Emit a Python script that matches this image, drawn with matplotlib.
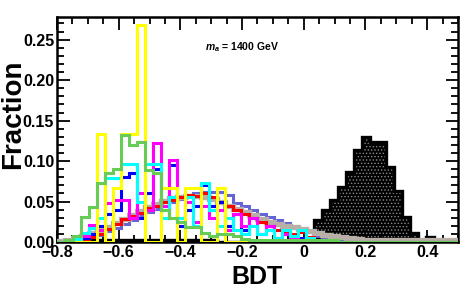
import numpy as np
import matplotlib
matplotlib.use("Agg")
import matplotlib.pyplot as plt
from matplotlib.ticker import MultipleLocator

plt.rcParams['font.family'] = ['Liberation Sans', 'DejaVu Sans']
plt.rcParams['font.weight'] = 'bold'
plt.rcParams['mathtext.fontset'] = 'custom'
plt.rcParams['mathtext.it'] = 'Liberation Sans:italic'
plt.rcParams['mathtext.rm'] = 'Liberation Sans:bold'
plt.rcParams['hatch.linewidth'] = 0.6

# 50 bins from -0.8 to 0.5
edges = np.linspace(-0.8, 0.5, 51)

yellow = [0, 0, 0, 0, 0, 0.134, 0, 0.067, 0.134, 0.134,
          0.268, 0, 0, 0.067, 0.067, 0, 0.067, 0.067, 0, 0,
          0.067, 0, 0, 0, 0] + [0]*25
green = [0, 0.002, 0.007, 0.031, 0.043, 0.073, 0.085, 0.090, 0.132, 0.120,
         0.123, 0.089, 0.085, 0.040, 0.030, 0.025, 0.019, 0.019, 0.011, 0.007,
         0.010, 0.010, 0.008, 0.004, 0.002] + [0.002]*10 + [0]*15
cyan = [0, 0, 0.004, 0.011, 0.017, 0.030, 0.079, 0.079, 0.097, 0.097,
        0.050, 0.097, 0.097, 0.030, 0.055, 0.030, 0.055, 0.020, 0.073, 0.040,
        0.020, 0.030, 0.015, 0.010, 0.020, 0.010, 0.015, 0.005, 0.015, 0.008,
        0.015, 0.005] + [0]*18
magenta = [0, 0, 0, 0.008, 0.021, 0.015, 0.048, 0.052, 0.052, 0.030,
           0.060, 0.040, 0.122, 0.045, 0.101, 0.030, 0.050, 0.025, 0.045, 0.030,
           0.040, 0.015, 0.035, 0.020, 0.030, 0.010, 0.020, 0.005, 0.010, 0.005] + [0]*20
blue = [0, 0, 0, 0.005, 0.010, 0.020, 0.035, 0.040, 0.080, 0.085,
        0.030, 0.060, 0.090, 0.030, 0.095, 0.020, 0.040, 0.045, 0.070, 0.045,
        0.050, 0.020, 0.035, 0.015, 0.030, 0.010, 0.020, 0.005, 0.010, 0.005,
        0.005] + [0]*19
red = [0, 0, 0, 0.003, 0.006, 0.010, 0.016, 0.022, 0.028, 0.032,
       0.036, 0.042, 0.045, 0.050, 0.052, 0.055, 0.058, 0.057, 0.060, 0.055,
       0.050, 0.045, 0.040, 0.035, 0.030, 0.025, 0.020, 0.015, 0.012, 0.010,
       0.012, 0.006, 0.003] + [0]*17
gray = [0.001, 0.003, 0.005, 0.008, 0.011, 0.015, 0.019, 0.023, 0.028, 0.033,
        0.038, 0.043, 0.047, 0.051, 0.054, 0.056, 0.057, 0.057, 0.055, 0.053,
        0.049, 0.045, 0.041, 0.037, 0.033, 0.029, 0.025, 0.022, 0.020, 0.018,
        0.016, 0.013, 0.011, 0.009, 0.007, 0.006, 0.005, 0.004, 0.003] + [0.002]*11
slate = [0.0, 0.001, 0.002, 0.004, 0.006, 0.009, 0.013, 0.017, 0.022, 0.027,
         0.032, 0.037, 0.041, 0.045, 0.049, 0.053, 0.058, 0.061, 0.062, 0.062,
         0.062, 0.058, 0.048, 0.044, 0.040, 0.035, 0.031, 0.027, 0.023, 0.020,
         0.016, 0.012, 0.008, 0.006, 0.004, 0.003, 0.002, 0.001, 0.001, 0.001] + [0]*10
black = [0]*4 + [0.002]*16 + [0]*12 + [0.027, 0.039, 0.052, 0.068, 0.087,
         0.114, 0.130, 0.123, 0.123, 0.093, 0.063, 0.031, 0.0115, 0.003, 0.006] + [0]*3

fig = plt.figure(figsize=(4.77, 3.07), dpi=100)
ax = fig.add_axes([0.1195, 0.2117, 0.8406, 0.7329])

# signal (filled, dotted)
ax.stairs(black, edges, fill=True, facecolor='black', edgecolor='#8a8a8a',
          hatch='.....', linewidth=0, zorder=1)
ax.stairs(black, edges, color='black', linewidth=2.4, zorder=2)

# backgrounds
ax.stairs(slate, edges, color='#6464d6', linewidth=2.2, zorder=3)
ax.stairs(gray, edges, color='#b8b0a8', linewidth=3.8, zorder=4)
ax.stairs(red, edges, color='#ff0000', linewidth=2.2, zorder=5)
ax.stairs(blue, edges, color='#0000ff', linewidth=2.2, zorder=6)
ax.stairs(magenta, edges, color='#ff00ff', linewidth=2.2, zorder=7)
ax.stairs(cyan, edges, color='#00ffff', linewidth=2.2, zorder=8)
ax.stairs(yellow, edges, color='#ffff00', linewidth=2.2, zorder=9)
ax.stairs(green, edges, color='#66cc55', linewidth=2.2, zorder=10)

ax.set_xlim(-0.8, 0.5)
ax.set_ylim(0, 0.278)

ax.xaxis.set_major_locator(MultipleLocator(0.2))
ax.xaxis.set_minor_locator(MultipleLocator(0.05))
ax.yaxis.set_major_locator(MultipleLocator(0.05))
ax.yaxis.set_minor_locator(MultipleLocator(0.01))
ax.xaxis.set_major_formatter(lambda v, p: ('0' if abs(v) < 1e-9 else '%g' % v).replace('-', '\u2212'))
ax.yaxis.set_major_formatter(lambda v, p: '%.2f' % v)

ax.tick_params(which='both', direction='in', top=True, right=True, width=1.3,
               labelsize=11.5, pad=2)
ax.tick_params(which='major', length=9)
ax.tick_params(which='minor', length=5)
for s in ax.spines.values():
    s.set_linewidth(1.8)

ax.set_xlabel('BDT', fontsize=18, fontweight='bold', labelpad=4)
ax.set_ylabel('Fraction', fontsize=20, fontweight='bold')
ax.yaxis.set_label_coords(-0.078, 0.57)

ax.text(0.369, 0.853, r'$m_a$ = 1400 GeV', transform=ax.transAxes,
        fontsize=7.5, fontweight='bold')

fig.savefig('out.png', dpi=100)
